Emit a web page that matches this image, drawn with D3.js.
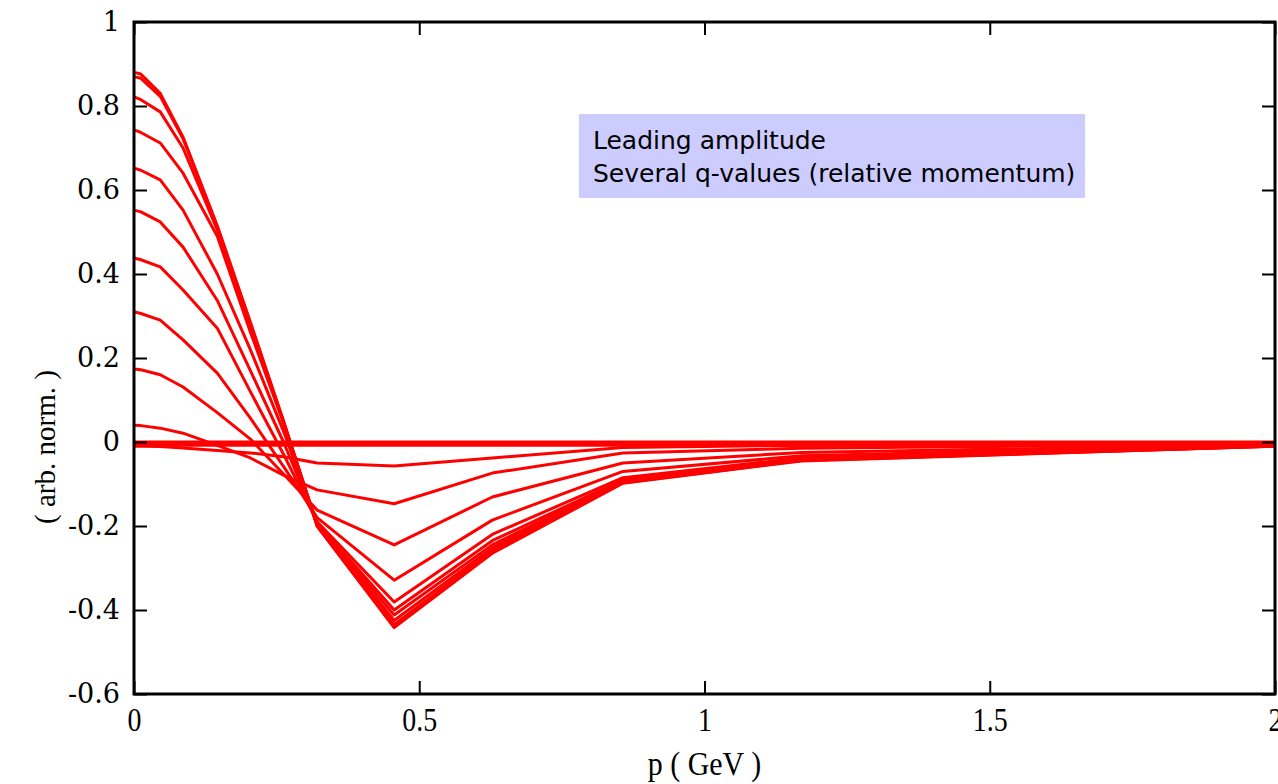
<!DOCTYPE html>
<html>
<head>
<meta charset="utf-8">
<script src="https://cdn.jsdelivr.net/npm/d3@7"></script>
<style>
  body { margin: 0; background: #fff; }
  svg { display: block; }
</style>
</head>
<body>
<svg id="chart"></svg>
<script>
// momentum grid (GeV) shared by every curve
const pGrid = [0, 0.012, 0.046, 0.086, 0.146, 0.204, 0.262, 0.321, 0.456, 0.628, 0.857, 1.17, 2.0];

// leading amplitude, one row per q-value
const curves = [
    [0.880, 0.876, 0.830, 0.726, 0.515, 0.285, 0.050, -0.200, -0.442, -0.265, -0.098, -0.045, -0.010],
    [0.870, 0.866, 0.823, 0.722, 0.512, 0.282, 0.049, -0.200, -0.440, -0.262, -0.097, -0.044, -0.010],
    [0.822, 0.815, 0.786, 0.700, 0.505, 0.278, 0.048, -0.198, -0.435, -0.258, -0.096, -0.043, -0.010],
    [0.743, 0.737, 0.712, 0.640, 0.490, 0.262, 0.045, -0.196, -0.425, -0.252, -0.094, -0.042, -0.009],
    [0.652, 0.647, 0.624, 0.552, 0.400, 0.220, 0.026, -0.195, -0.412, -0.245, -0.092, -0.041, -0.009],
    [0.552, 0.548, 0.524, 0.464, 0.337, 0.170, 0.000, -0.192, -0.400, -0.235, -0.090, -0.040, -0.009],
    [0.438, 0.434, 0.417, 0.362, 0.271, 0.120, -0.029, -0.190, -0.381, -0.220, -0.085, -0.038, -0.008],
    [0.310, 0.306, 0.290, 0.243, 0.164, 0.057, -0.058, -0.180, -0.329, -0.186, -0.070, -0.033, -0.007],
    [0.174, 0.172, 0.160, 0.131, 0.070, 0.007, -0.076, -0.162, -0.245, -0.131, -0.050, -0.025, -0.006],
    [0.040, 0.039, 0.033, 0.021, -0.008, -0.038, -0.079, -0.114, -0.147, -0.074, -0.026, -0.015, -0.004],
    [-0.010, -0.010, -0.011, -0.014, -0.020, -0.026, -0.035, -0.050, -0.057, -0.038, -0.013, -0.008, -0.002],
    [0, 0, 0, 0, 0, 0, 0, 0, 0, 0, 0, 0, 0],
    [-0.004, -0.004, -0.004, -0.004, -0.004, -0.004, -0.004, -0.004, -0.004, -0.004, -0.004, -0.004, -0.004],
    [-0.008, -0.008, -0.008, -0.008, -0.008, -0.008, -0.008, -0.008, -0.008, -0.008, -0.008, -0.008, -0.008]
];

const xTicks = [0, 0.5, 1, 1.5, 2];
const yTicks = [-0.6, -0.4, -0.2, 0, 0.2, 0.4, 0.6, 0.8, 1];
const legendLines = ['Leading amplitude', 'Several q-values (relative momentum)'];

const config = {
    width: 1278,
    height: 784,
    margin: { top: 22, right: 3, bottom: 90, left: 134 }
};

const width = config.width - config.margin.left - config.margin.right;
const height = config.height - config.margin.top - config.margin.bottom;

const svg = d3.select('#chart')
    .attr('width', config.width)
    .attr('height', config.height);

const chart = svg.append('g')
    .attr('transform', `translate(${config.margin.left}, ${config.margin.top})`);

// scales
const x = d3.scaleLinear().domain([0, 2]).range([0, width]);
const y = d3.scaleLinear().domain([-0.6, 1]).range([height, 0]);

const yFmt = d => String(+d.toFixed(1));

// legend box
const legend = chart.append('g')
    .attr('transform', `translate(${579 - config.margin.left}, ${114 - config.margin.top})`);
legend.append('rect')
    .attr('width', 506)
    .attr('height', 84)
    .attr('fill', '#ccccff');
legend.selectAll('text')
    .data(legendLines)
    .enter()
    .append('text')
    .attr('x', 14)
    .attr('y', (d, i) => 35 + i * 33)
    .style('font-family', '"DejaVu Sans", sans-serif')
    .style('font-size', '25px')
    .attr('fill', '#000')
    .text(d => d);

// curves
const line = d3.line()
    .x((d, i) => x(pGrid[i]))
    .y(d => y(d));

chart.selectAll('.curve')
    .data(curves)
    .enter()
    .append('path')
    .attr('class', 'curve')
    .attr('d', line)
    .attr('fill', 'none')
    .attr('stroke', '#ff0000')
    .attr('stroke-width', 3)
    .attr('stroke-linejoin', 'round');

// axes, ticks pointing inward
const tick = 13;
const styleAxis = g => {
    g.select('.domain').remove();
    g.selectAll('.tick line').attr('stroke', '#000').attr('stroke-width', 2);
};

chart.append('g')
    .attr('class', 'y-axis')
    .call(d3.axisLeft(y).tickValues(yTicks).tickFormat(yFmt).tickSizeInner(-tick).tickSizeOuter(0).tickPadding(14))
    .call(styleAxis)
    .selectAll('text')
    .style('font-family', '"DejaVu Serif", serif')
    .style('font-size', '27px')
    .attr('fill', '#000');

chart.append('g')
    .attr('class', 'y-axis-right')
    .attr('transform', `translate(${width}, 0)`)
    .call(d3.axisRight(y).tickValues(yTicks).tickFormat('').tickSizeInner(-tick).tickSizeOuter(0))
    .call(styleAxis);

chart.append('g')
    .attr('class', 'x-axis')
    .attr('transform', `translate(0, ${height})`)
    .call(d3.axisBottom(x).tickValues(xTicks).tickFormat(d => String(d)).tickSizeInner(-tick).tickSizeOuter(0).tickPadding(13))
    .call(styleAxis)
    .selectAll('text')
    .style('font-family', '"Liberation Serif", serif')
    .style('font-size', '34px')
    .attr('fill', '#000')
    .attr('transform', 'scale(0.82, 1)');

chart.append('g')
    .attr('class', 'x-axis-top')
    .call(d3.axisTop(x).tickValues(xTicks).tickFormat('').tickSizeInner(-tick).tickSizeOuter(0))
    .call(styleAxis);

// frame
chart.append('rect')
    .attr('width', width)
    .attr('height', height)
    .attr('fill', 'none')
    .attr('stroke', '#000')
    .attr('stroke-width', 3);

// axis titles
chart.append('text')
    .attr('transform', `translate(${width / 2}, ${height + 81}) scale(0.88, 1)`)
    .style('text-anchor', 'middle')
    .style('font-family', '"Liberation Serif", serif')
    .style('font-size', '34px')
    .text('p ( GeV )');

chart.append('text')
    .attr('transform', `translate(${-config.margin.left + 55}, ${425}) rotate(270)`)
    .style('text-anchor', 'middle')
    .style('font-family', '"Liberation Serif", serif')
    .style('font-size', '29px')
    .text('( arb. norm. )');
</script>
</body>
</html>
